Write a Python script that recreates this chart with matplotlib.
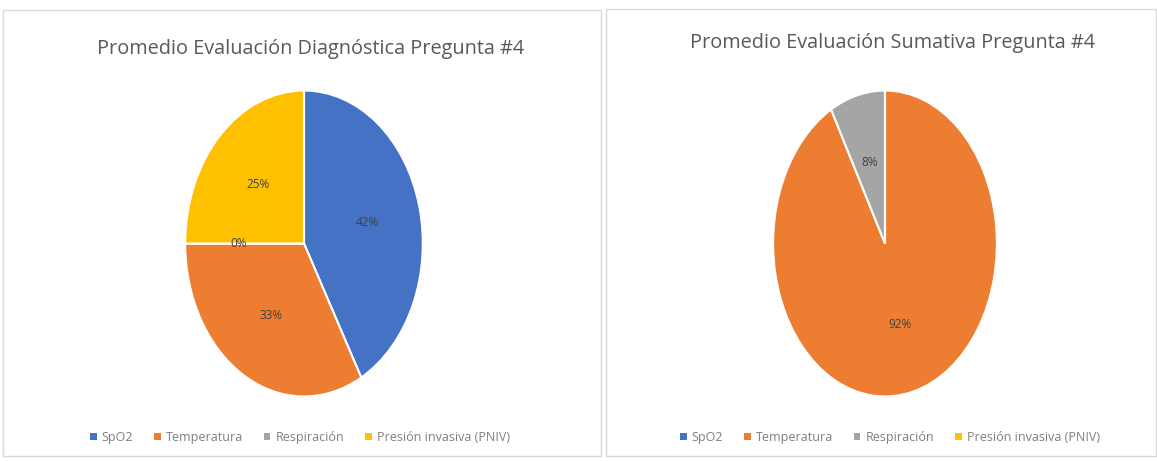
import matplotlib
matplotlib.use("Agg")
import matplotlib.pyplot as plt
from matplotlib.patches import Rectangle, Patch

categories = ["SpO2", "Temperatura", "Respiración", "Presión invasiva (PNIV)"]
diag_values = [42, 33, 0, 25]
sum_values = [0, 92, 8, 0]
title_diag = "Promedio Evaluación Diagnóstica Pregunta #4"
title_sum = "Promedio Evaluación Sumativa Pregunta #4"
colors = ["#4472C4", "#ED7D31", "#A5A5A5", "#FFC000"]

plt.rcParams['font.family'] = ['Open Sans', 'DejaVu Sans']
W, H = 1157, 461
fig = plt.figure(figsize=(W / 100, H / 100), dpi=100)
fig.patch.set_facecolor("white")

def fx(x):
    return x / W

def fy(y):
    return 1 - y / H

# panel borders
for (x0, y0, x1, y1) in [(3, 10, 601, 456), (606, 9, 1156, 456)]:
    fig.add_artist(Rectangle((fx(x0), fy(y1)), fx(x1 - x0), (y1 - y0) / H,
                             transform=fig.transFigure, fill=False,
                             edgecolor="#D9D9D9", linewidth=1.0))

def draw_pie(box, values, show_zero):
    x0, y0, x1, y1 = box
    ax = fig.add_axes([fx(x0), fy(y1), fx(x1 - x0), (y1 - y0) / H])
    def fmt(p):
        if p < 0.5 and not show_zero:
            return ""
        return "%d%%" % round(p)
    wedges, texts, autotexts = ax.pie(
        values, colors=colors, startangle=90, counterclock=False,
        autopct=fmt, pctdistance=0.55,
        wedgeprops=dict(edgecolor="white", linewidth=1.5),
        textprops=dict(color="#404040", fontsize=8.5))
    ax.set_aspect('auto')
    ax.set_xlim(-1.01, 1.01)
    ax.set_ylim(-1.01, 1.01)
    ax.axis('off')
    return ax

draw_pie((184, 89, 424, 398), diag_values, True)
draw_pie((772, 89, 998, 398), sum_values, False)

fig.text(fx(311), fy(49), title_diag, ha='center', va='center',
         fontsize=14.3, color="#595959")
fig.text(fx(893), fy(43), title_sum, ha='center', va='center',
         fontsize=14.3, color="#595959")

handles = [Patch(facecolor=c, edgecolor='none') for c in colors]
for cx in (300, 890):
    fig.legend(handles, categories, loc='center', bbox_to_anchor=(fx(cx), fy(437)),
               ncol=4, frameon=False, fontsize=9, labelcolor="#7F7F7F",
               handlelength=0.5, handleheight=0.5, handletextpad=0.4,
               columnspacing=1.7)

fig.savefig("out.png", dpi=100, facecolor="white")
